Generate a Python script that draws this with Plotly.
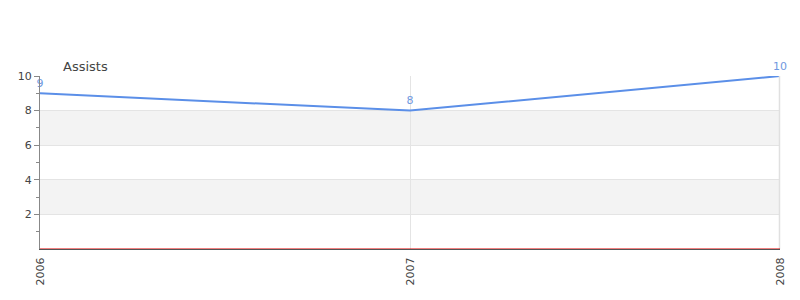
import plotly.graph_objects as go

years = [2006, 2007, 2008]
assists = [9, 8, 10]
x_tick_labels = ["2006", "2007", "2008"]
y_tick_vals = [2, 4, 6, 8, 10]
bands = [(2, 4), (6, 8)]

fig = go.Figure()
fig.add_trace(go.Scatter(
    x=years, y=assists, mode="lines+markers+text",
    text=[str(v) for v in assists], textposition="top center",
    textfont=dict(family="DejaVu Sans", size=11, color="#6f98e0"),
    line=dict(color="#5b8fe8", width=2),
    marker=dict(size=4, color="rgba(0,0,0,0)"),
    cliponaxis=False, hoverinfo="x+y",
))

shapes = []
for lo, hi in bands:
    shapes.append(dict(type="rect", xref="paper", yref="y", x0=0, x1=1, y0=lo, y1=hi,
                       fillcolor="#f3f3f3", line=dict(width=0), layer="below"))
shapes.append(dict(type="line", xref="paper", yref="paper", x0=0.9993, x1=0.9993, y0=0, y1=1,
                   line=dict(color="#e0e0e0", width=1.5), layer="above"))
shapes.append(dict(type="line", xref="paper", yref="y", x0=0, x1=1, y0=0, y1=0,
                   line=dict(color="#e00000", width=1), layer="above"))

fig.update_layout(
    width=800, height=300,
    margin=dict(l=40, r=20, t=76, b=51),
    paper_bgcolor="white", plot_bgcolor="white",
    showlegend=False,
    shapes=shapes,
    font=dict(family="DejaVu Sans", size=11, color="#444"),
    annotations=[dict(text="Assists", xref="paper", yref="paper", x=0.028, y=1.0,
                      xanchor="left", yanchor="bottom", yshift=0, showarrow=False,
                      font=dict(family="DejaVu Sans", size=13, color="#444"))],
    xaxis=dict(range=[2006, 2008], tickvals=years, ticktext=x_tick_labels,
               tickangle=-90, showgrid=True, gridcolor="#e4e4e4", zeroline=False,
               showline=True, linecolor="#555", linewidth=1, mirror=False,
               ticks="outside", ticklen=3, tickcolor="rgba(0,0,0,0)",
               tickfont=dict(size=11, color="#444"), fixedrange=True),
    yaxis=dict(range=[0, 10], tickvals=y_tick_vals, showgrid=True, gridcolor="#e4e4e4",
               zeroline=False, showline=True, linecolor="#888", linewidth=1,
               ticks="outside", ticklen=5, tickcolor="#888",
               minor=dict(tickvals=[1, 3, 5, 7, 9], ticks="outside", ticklen=3, tickcolor="#888", showgrid=False),
               tickfont=dict(size=11, color="#444"), fixedrange=True),
)

fig.write_html("out.html")
